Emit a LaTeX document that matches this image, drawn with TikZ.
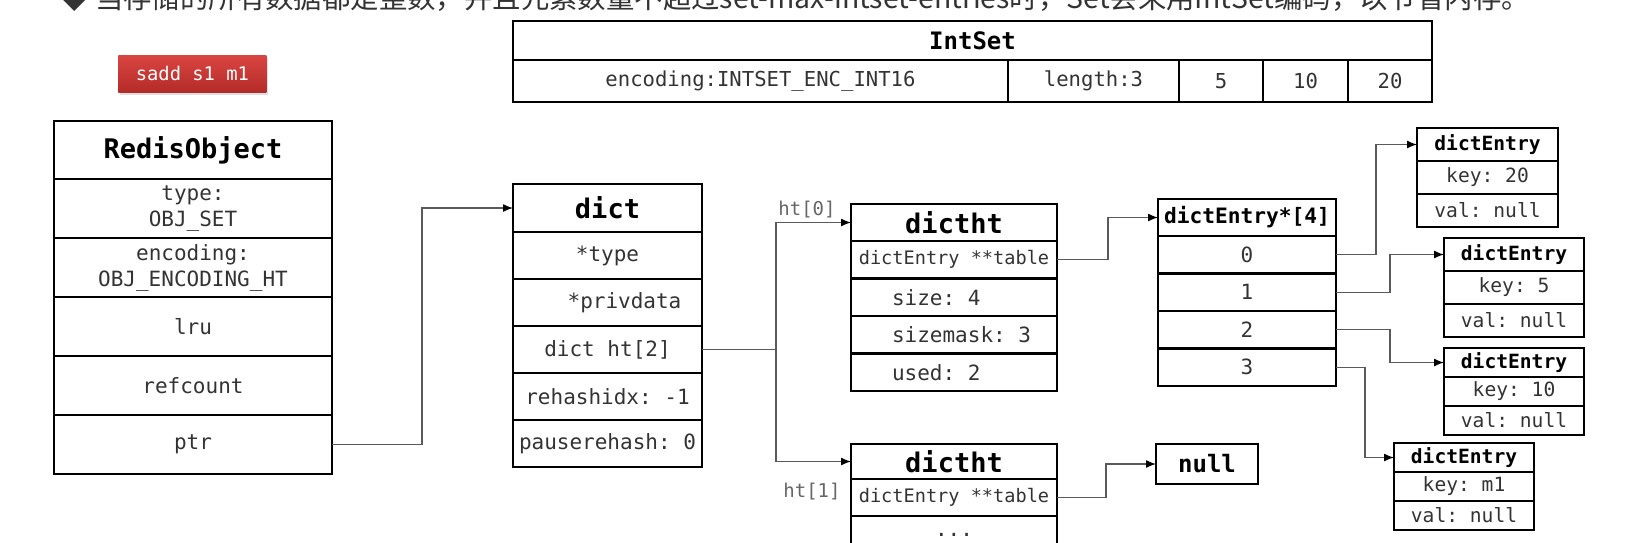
\documentclass[tikz,border=0pt]{standalone}
\usepackage{fontspec}
\setmonofont{DejaVu Sans Mono}
\newfontfamily\cjk{Noto Sans CJK SC}
\usepackage{tikz}
\usetikzlibrary{positioning, arrows.meta, shadows}

\definecolor{txt}{HTML}{333333}
\definecolor{wiregray}{HTML}{5A5A5A}
\definecolor{lblgray}{HTML}{666666}
\definecolor{btntop}{HTML}{DA4541}
\definecolor{btnbot}{HTML}{B32B28}

\newcommand{\fs}[1]{\fontsize{#1}{13pt}\selectfont\ttfamily}

\begin{document}
\begin{tikzpicture}[x=0.5pt, y=-0.5pt, node distance=0pt,
   >={Latex[length=5pt, width=4pt, color=black]},
   field/.style={draw, line width=1.3pt, outer sep=0pt, inner sep=0pt,
                 minimum width=#1, text=txt},
   head/.style={field=#1, text=black},
   link/.style={draw=wiregray, line width=0.65pt},
   lbl/.style={text=lblgray, inner sep=0pt, font=\fs{9.5pt}}]
   \useasboundingbox (0,0) rectangle (1634,542);
   \clip (0,0) rectangle (1634,542);

   % 顶部说明文字（被截去上半部分）
   \node[anchor=base west, inner sep=0pt, text=txt,
         font=\cjk\fontsize{14.2pt}{17pt}\selectfont] (note) at (60,8)
        {◆ 当存储的所有数据都是整数，并且元素数量不超过set-max-intset-entries时，Set会采用IntSet编码，以节省内存。};

   % 命令按钮
   \node[minimum width=74pt, minimum height=18.5pt, inner sep=0pt, anchor=north west,
         top color=btntop, bottom color=btnbot, text=white, font=\fs{9.4pt},
         drop shadow={opacity=0.25, shadow xshift=0.6pt, shadow yshift=-1.2pt}]
        (cmd) at (118,55) {sadd s1 m1};

   % IntSet
   \node[head=459.5pt, line width=1pt, minimum height=19.5pt, anchor=north west,
         font=\fs{12pt}\bfseries] (is) at (513,21) {IntSet};
   \node[field=247.5pt, line width=1pt, minimum height=21pt, anchor=north west,
         font=\fs{10.3pt}] (is-enc) at (is.south west) {encoding:INTSET\_ENC\_INT16};
   \node[field=85.5pt, line width=1pt, minimum height=21pt, right=of is-enc,
         font=\fs{10.3pt}] (is-len) {length:3};
   \node[field=42pt, line width=1pt, minimum height=21pt, right=of is-len,
         font=\fs{10.3pt}] (is-v1) {5};
   \node[field=42.5pt, line width=1pt, minimum height=21pt, right=of is-v1,
         font=\fs{10.3pt}] (is-v2) {10};
   \node[field=42pt, line width=1pt, minimum height=21pt, right=of is-v2,
         font=\fs{10.3pt}] (is-v3) {20};

   % RedisObject
   \node[head=139pt, minimum height=29pt, anchor=north west,
         font=\fs{13.5pt}\bfseries] (ro) at (54,121) {RedisObject};
   \node[field=139pt, minimum height=29.5pt, below=of ro, align=center,
         font=\fs{10.5pt}] (ro-type) {type:\\OBJ\_SET};
   \node[field=139pt, minimum height=29.5pt, below=of ro-type, align=center,
         font=\fs{10.5pt}] (ro-enc) {encoding:\\OBJ\_ENCODING\_HT};
   \node[field=139pt, minimum height=29.5pt, below=of ro-enc,
         font=\fs{10.5pt}] (ro-lru) {lru};
   \node[field=139pt, minimum height=29.5pt, below=of ro-lru,
         font=\fs{10.5pt}] (ro-ref) {refcount};
   \node[field=139pt, minimum height=29.5pt, below=of ro-ref,
         font=\fs{10.5pt}] (ro-ptr) {ptr};

   % dict
   \node[head=94.5pt, minimum height=24pt, anchor=north west,
         font=\fs{13.5pt}\bfseries] (d) at (513,184) {dict};
   \node[field=94.5pt, minimum height=23.5pt, below=of d,
         font=\fs{10.5pt}] (d-type) {*type};
   \node[field=94.5pt, minimum height=23.5pt, below=of d-type,
         font=\fs{10.5pt}] (d-priv) {\hspace*{17pt}*privdata};
   \node[field=94.5pt, minimum height=23.5pt, below=of d-priv,
         font=\fs{10.5pt}] (d-ht) {dict ht[2]};
   \node[field=94.5pt, minimum height=23.5pt, below=of d-ht,
         font=\fs{10.5pt}] (d-rehash) {rehashidx: -1};
   \node[field=94.5pt, minimum height=23.5pt, below=of d-rehash,
         font=\fs{10.5pt}] (d-pause) {pauserehash: 0};

   % dictht ht[0]
   \node[head=103pt, minimum height=18.5pt, anchor=north west,
         font=\fs{13.5pt}\bfseries] (t0) at (851,204) {dictht};
   \node[field=103pt, minimum height=18.75pt, below=of t0,
         font=\fs{9.3pt}] (t0-tab) {dictEntry **table};
   \node[field=103pt, minimum height=18.75pt, below=of t0-tab,
         font=\fs{10.5pt}] (t0-size) {\makebox[62pt][l]{size: 4}};
   \node[field=103pt, minimum height=18.75pt, below=of t0-size,
         font=\fs{10.5pt}] (t0-mask) {\makebox[62pt][l]{sizemask: 3}};
   \node[field=103pt, minimum height=18.75pt, below=of t0-mask,
         font=\fs{10.5pt}] (t0-used) {\makebox[62pt][l]{used: 2}};

   % dictht ht[1]
   \node[head=103pt, minimum height=17.5pt, anchor=north west,
         font=\fs{13.5pt}\bfseries] (t1) at (851,444) {dictht};
   \node[field=103pt, minimum height=18.5pt, below=of t1,
         font=\fs{9.3pt}] (t1-tab) {dictEntry **table};
   \node[field=103pt, minimum height=18.5pt, below=of t1-tab,
         font=\fs{10.5pt}] (t1-more) {...};

   \node[lbl] (ht0) at (807,210) {ht[0]};
   \node[lbl] (ht1) at (812,492) {ht[1]};

   % dictEntry*[4]
   \node[head=89pt, minimum height=18.5pt, anchor=north west,
         font=\fs{10.6pt}\bfseries] (a) at (1158,199) {dictEntry*[4]};
   \node[field=89pt, minimum height=18.75pt, below=of a, font=\fs{10.5pt}] (a0) {0};
   \node[field=89pt, minimum height=18.75pt, below=of a0, font=\fs{10.5pt}] (a1) {1};
   \node[field=89pt, minimum height=18.75pt, below=of a1, font=\fs{10.5pt}] (a2) {2};
   \node[field=89pt, minimum height=18.75pt, below=of a2, font=\fs{10.5pt}] (a3) {3};

   \node[head=51pt, minimum height=20pt, anchor=north west,
         font=\fs{12pt}\bfseries] (nul) at (1156,444) {null};

   % dictEntry
   \node[head=70.5pt, minimum height=16.5pt, anchor=north west,
         font=\fs{9.8pt}\bfseries] (e1) at (1417,128) {dictEntry};
   \node[field=70.5pt, minimum height=16.5pt, below=of e1, font=\fs{9.8pt}] (e1-key) {key: 20};
   \node[field=70.5pt, minimum height=16.5pt, below=of e1-key, font=\fs{9.8pt}] (e1-val) {val: null};

   \node[head=70pt, minimum height=16.5pt, anchor=north west,
         font=\fs{9.8pt}\bfseries] (e2) at (1444,238) {dictEntry};
   \node[field=70pt, minimum height=16.5pt, below=of e2, font=\fs{9.8pt}] (e2-key) {key: 5};
   \node[field=70pt, minimum height=16.5pt, below=of e2-key, font=\fs{9.8pt}] (e2-val) {val: null};

   \node[head=70pt, minimum height=14.5pt, anchor=north west,
         font=\fs{9.8pt}\bfseries] (e3) at (1444,348) {dictEntry};
   \node[field=70pt, minimum height=14.5pt, below=of e3, font=\fs{9.8pt}] (e3-key) {key: 10};
   \node[field=70pt, minimum height=14.5pt, below=of e3-key, font=\fs{9.8pt}] (e3-val) {val: null};

   \node[head=70pt, minimum height=14.5pt, anchor=north west,
         font=\fs{9.8pt}\bfseries] (e4) at (1394,443) {dictEntry};
   \node[field=70pt, minimum height=14.5pt, below=of e4, font=\fs{9.8pt}] (e4-key) {key: m1};
   \node[field=70pt, minimum height=14.5pt, below=of e4-key, font=\fs{9.8pt}] (e4-val) {val: null};

   % 指针连线
   \draw[link, ->] (ro-ptr.east) -- ++(90,0) |- (d.west);
   \draw[link] (d-ht.east) -- ++(74,0) coordinate (fork);
   \draw[link, ->] (fork) |- (t0.west);
   \draw[link, ->] (fork) |- (t1.west);
   \draw[link, ->] (t0-tab.east) -- ++(51,0) |- (a.west);
   \draw[link, ->] (t1-tab.east) -- ++(49,0) |- (nul.west);
   \draw[link, ->] (a0.east) -- ++(40,0) |- (e1.west);
   \draw[link, ->] (a1.east) -- ++(54,0) |- (e2.west);
   \draw[link, ->] (a2.east) -- ++(54,0) |- (e3.west);
   \draw[link, ->] (a3.east) -- ++(29,0) |- (e4.west);
\end{tikzpicture}
\end{document}
